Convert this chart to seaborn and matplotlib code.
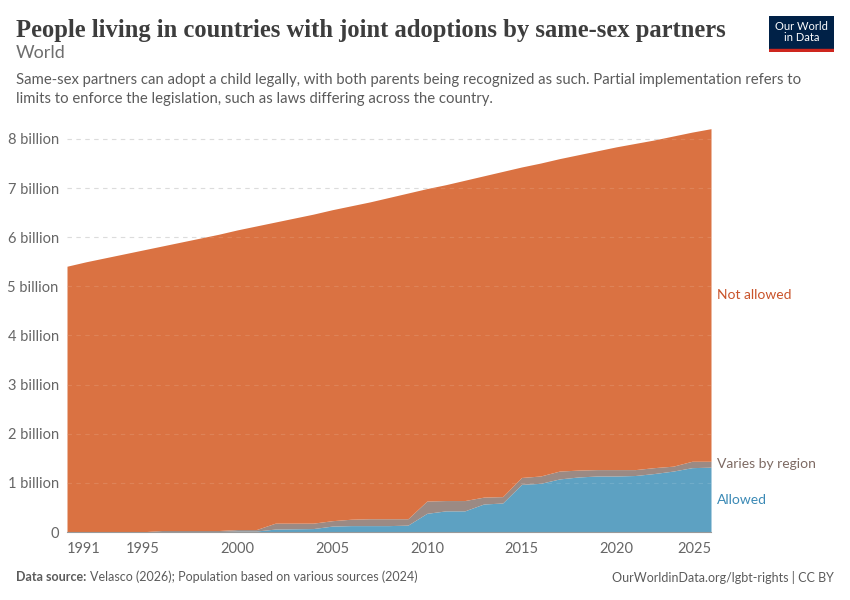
import numpy as np
import pandas as pd
import matplotlib
matplotlib.use("Agg")
import matplotlib.pyplot as plt
import seaborn as sns
from matplotlib.patches import Rectangle

years = list(range(1991, 2026))
total = [5.41, 5.50, 5.58, 5.66, 5.74, 5.82, 5.90, 5.98, 6.06, 6.15,
         6.23, 6.31, 6.39, 6.47, 6.56, 6.64, 6.72, 6.81, 6.90, 6.99,
         7.07, 7.16, 7.25, 7.34, 7.43, 7.51, 7.60, 7.68, 7.76, 7.84,
         7.91, 7.98, 8.06, 8.14, 8.21]
allowed = [0.0, 0.0, 0.0, 0.0, 0.005, 0.01, 0.01, 0.01, 0.01, 0.02,
           0.02, 0.06, 0.065, 0.07, 0.12, 0.13, 0.13, 0.13, 0.14, 0.38,
           0.43, 0.43, 0.57, 0.59, 0.97, 0.99, 1.08, 1.12, 1.14, 1.14,
           1.15, 1.19, 1.24, 1.31, 1.32]
varies = [0.0, 0.0, 0.0, 0.0, 0.0, 0.02, 0.02, 0.02, 0.02, 0.03,
          0.03, 0.12, 0.115, 0.11, 0.11, 0.13, 0.14, 0.14, 0.13, 0.25,
          0.21, 0.21, 0.14, 0.13, 0.14, 0.15, 0.16, 0.14, 0.13, 0.13,
          0.12, 0.12, 0.10, 0.13, 0.12]
not_allowed = [t - a - v for t, a, v in zip(total, allowed, varies)]

series_names = ["Allowed", "Varies by region", "Not allowed"]
colors = ["#5DA1C2", "#9B8A84", "#DA7242"]
label_colors = ["#3A89B5", "#7D6A63", "#C9532A"]

df = pd.DataFrame({"year": years, "Allowed": allowed,
                   "Varies by region": varies, "Not allowed": not_allowed})

sns.set_theme(style="white")
plt.rcParams['font.family'] = ['Lato', 'DejaVu Sans']

fig = plt.figure(figsize=(8.5, 6), dpi=100)
ax = fig.add_axes([67/850, 68/600, 644/850, 0.6755])

ax.stackplot(df["year"], [df[s] for s in series_names], colors=colors,
             linewidth=0, zorder=1)

ax.set_xlim(1991, 2025)
ax.set_ylim(0, 8.25)
yt = [0, 1, 2, 3, 4, 5, 6, 7, 8]
ax.set_yticks(yt)
ax.set_yticklabels(["0"] + [f"{v} billion" for v in yt[1:]])
xt = [1991, 1995, 2000, 2005, 2010, 2015, 2020, 2025]
ax.set_xticks(xt)
ax.set_xticklabels([str(v) for v in xt])
xlabels = ax.get_xticklabels()
xlabels[0].set_ha("left")
xlabels[-1].set_ha("right")
for v in yt[1:]:
    ax.axhline(v, color="#d8d8d8", lw=0.8, ls=(0, (4, 4)), zorder=0)
    ax.axhline(v, color="#ffffff", lw=0.8, ls=(0, (4, 4)), zorder=2, alpha=0.12)

for s in ["top", "right", "left"]:
    ax.spines[s].set_visible(False)
ax.spines["bottom"].set_color("#999999")
ax.spines["bottom"].set_linewidth(0.8)
ax.tick_params(axis="x", length=5, width=0.8, color="#999999", labelsize=10.5,
               labelcolor="#666666", pad=2)
ax.tick_params(axis="y", length=0, labelsize=10.5, labelcolor="#666666", pad=6)

# series labels on the right
lab_y = [0.66, 1.38, 4.82]
for name, c, y in zip(series_names, label_colors, lab_y):
    ax.text(2025.3, y, name, color=c, fontsize=10, va="center", ha="left",
            clip_on=False)

# titles
fig.text(16/850, 1 - 30/600, "People living in countries with joint adoptions by same-sex partners",
         fontsize=17.7, fontweight="bold", family=["Liberation Serif", "DejaVu Serif"],
         color="#3d3d3d", va="center", ha="left")
fig.text(16/850, 1 - 53/600, "World", fontsize=13, color="#6e6e6e",
         va="center", ha="left")
fig.text(16/850, 1 - 80/600, "Same-sex partners can adopt a child legally, with both parents being recognized as such. Partial implementation refers to",
         fontsize=10.7, color="#5b5b5b", va="center", ha="left")
fig.text(16/850, 1 - 99/600, "limits to enforce the legislation, such as laws differing across the country.",
         fontsize=10.7, color="#5b5b5b", va="center", ha="left")

# footer
fig.text(16/850, 1 - 577/600, "Data source:", fontsize=9, fontweight="bold",
         color="#5b5b5b", va="center", ha="left")
fig.text(90/850, 1 - 577/600, "Velasco (2026); Population based on various sources (2024)",
         fontsize=9, color="#5b5b5b", va="center", ha="left")
fig.text(834/850, 1 - 577/600, "OurWorldinData.org/lgbt-rights | CC BY",
         fontsize=9, color="#5b5b5b", va="center", ha="right")

# logo
logo = fig.add_axes([769/850, 1 - 52/600, 65/850, 36/600])
logo.set_xlim(0, 1); logo.set_ylim(0, 1); logo.axis("off")
logo.add_patch(Rectangle((0, 0.08), 1, 0.92, color="#002147"))
logo.add_patch(Rectangle((0, 0), 1, 0.08, color="#CE261E"))
logo.text(0.5, 0.56, "Our World\nin Data", color="white", fontsize=8,
          ha="center", va="center", linespacing=1.0)

fig.savefig("out.png", dpi=100, facecolor="white")
